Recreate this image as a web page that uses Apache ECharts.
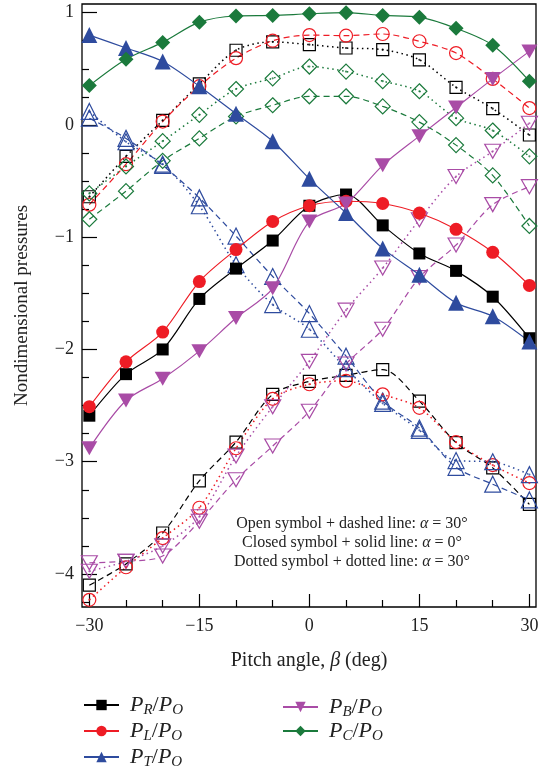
<!DOCTYPE html>
<html><head><meta charset="utf-8">
<script src="https://cdn.jsdelivr.net/npm/echarts@6/dist/echarts.min.js"></script>
<style>html,body{margin:0;padding:0;background:#fff}#c{width:546px;height:774px}</style>
</head><body><div id="c"></div>
<script>
const beta = [-30,-25,-20,-15,-10,-5,0,5,10,15,20,25,30];
const xMajor = [-30,-15,0,15,30];
const xMinor = [-25,-20,-10,-5,5,10,20,25];
const yMajor = [-4,-3,-2,-1,0,1];
const yMinor = [-4.25,-3.75,-3.5,-3.25,-2.75,-2.5,-2.25,-1.75,-1.5,-1.25,-0.75,-0.5,-0.25,0.25,0.5,0.75];

// Closed symbol + solid line (alpha = 0)
const R_solid = [-2.59,-2.22,-2.00,-1.55,-1.28,-1.03,-0.72,-0.62,-0.895,-1.145,-1.30,-1.53,-1.90];
const L_solid = [-2.51,-2.11,-1.845,-1.395,-1.11,-0.86,-0.72,-0.68,-0.70,-0.785,-0.93,-1.135,-1.43];
const T_solid = [0.80,0.685,0.565,0.345,0.10,-0.145,-0.48,-0.785,-1.10,-1.335,-1.585,-1.705,-1.93];
const B_solid = [-2.88,-2.455,-2.26,-2.015,-1.72,-1.455,-0.86,-0.70,-0.36,-0.10,0.155,0.41,0.655];
const C_solid = [0.35,0.585,0.735,0.915,0.97,0.975,0.99,1.0,0.975,0.96,0.86,0.71,0.39];

// Open symbol + dashed line
const R_dash = [-4.10,-3.91,-3.635,-3.17,-2.825,-2.40,-2.285,-2.23,-2.18,-2.46,-2.83,-3.055,-3.38];
const L_dash = [-0.71,-0.35,0.03,0.345,0.595,0.75,0.80,0.795,0.81,0.745,0.64,0.41,0.15];
const T_dash = [0.06,-0.12,-0.36,-0.65,-0.99,-1.35,-1.68,-2.06,-2.46,-2.70,-3.05,-3.20,-3.34];
const B_dash = [-3.90,-3.887,-3.84,-3.53,-3.16,-2.86,-2.55,-2.13,-1.82,-1.36,-1.07,-0.71,-0.55];
const C_dash = [-0.84,-0.59,-0.32,-0.12,0.075,0.175,0.255,0.255,0.165,0.025,-0.18,-0.45,-0.90];

// Dotted symbol + dotted line
const R_dot = [-0.64,-0.28,0.04,0.365,0.665,0.74,0.715,0.685,0.67,0.58,0.335,0.145,-0.09];
const L_dot = [-4.23,-3.94,-3.68,-3.41,-2.88,-2.44,-2.31,-2.28,-2.40,-2.52,-2.825,-3.03,-3.19];
const T_dot = [0.12,-0.15,-0.35,-0.72,-1.245,-1.60,-1.82,-2.17,-2.48,-2.72,-2.99,-3.00,-3.115];
const B_dot = [-3.976,-3.887,-3.75,-3.49,-2.95,-2.51,-2.106,-1.65,-1.275,-0.845,-0.46,-0.235,0.015];
const C_dot = [-0.61,-0.37,-0.145,0.09,0.32,0.415,0.52,0.475,0.39,0.30,0.06,-0.05,-0.28];

const COL = {R:'#000000', L:'#ee1c25', T:'#2e4b9e', B:'#a94ca6', C:'#1b7a3c'};
const SYM = {
  R:{s:'rect', size:12},
  L:{s:'circle', size:13},
  T:{s:'triangle', size:16},
  B:{s:'path://M0,0 L10,0 L5,9 Z', size:[16,14]},
  C:{s:'path://M5,0 L10,5 L5,10 L0,5 Z', size:15}
};
const names = {R:'P_R/P_O', L:'P_L/P_O', T:'P_T/P_O', B:'P_B/P_O', C:'P_C/P_O'};
const solid = {R:R_solid, L:L_solid, T:T_solid, B:B_solid, C:C_solid};
const dash = {R:R_dash, L:L_dash, T:T_dash, B:B_dash, C:C_dash};
const dot = {R:R_dot, L:L_dot, T:T_dot, B:B_dot, C:C_dot};
const pair = arr => beta.map((b,i)=>[b,arr[i]]);

const series = [];
const keys = ['R','L','T','B','C'];
keys.forEach(k=>{
  series.push({
    type:'line', name:k+'_dash', data:pair(dash[k]), smooth:0.3,
    symbol:SYM[k].s, symbolSize:SYM[k].size, showSymbol:true,
    itemStyle:{color:'rgba(255,255,255,0)', borderColor:COL[k], borderWidth:1.2},
    lineStyle:{color:COL[k], width:1.2, type:[6,4]},
    emphasis:{disabled:true}, z:2
  });
  series.push({
    type:'line', name:k+'_dot', data:pair(dot[k]), smooth:0.3,
    symbol:SYM[k].s, symbolSize:SYM[k].size, showSymbol:true,
    itemStyle:{color:'rgba(255,255,255,0)', borderColor:COL[k], borderWidth:1.2},
    lineStyle:{color:COL[k], width:1.5, type:[1.5,3.5]},
    emphasis:{disabled:true}, z:2
  });
  series.push({
    type:'scatter', name:k+'_dotc', data:pair(dot[k]),
    symbol:'circle', symbolSize:2.2, itemStyle:{color:COL[k]},
    emphasis:{disabled:true}, silent:true, z:3
  });
});
keys.forEach(k=>{
  series.push({
    type:'line', name:names[k], data:pair(solid[k]), smooth:0.3,
    symbol:SYM[k].s, symbolSize:SYM[k].size, showSymbol:true,
    itemStyle:{color:COL[k]},
    lineStyle:{color:COL[k], width:1.2},
    emphasis:{disabled:true}, z:4
  });
});

const serif = '"Liberation Serif","DejaVu Serif",serif';
const legRich = {
  p:{fontFamily:serif, fontStyle:'italic', fontSize:22, color:'#222', padding:[0,0,0,6]},
  i:{fontFamily:serif, fontStyle:'italic', fontSize:22, color:'#222'},
  s:{fontFamily:serif, fontStyle:'italic', fontSize:15, color:'#222', padding:[11,0,0,0]},
  n:{fontFamily:serif, fontSize:22, color:'#222'}
};
const legFmt = n => { const p = n.split('/'); const a=p[0].split('_'), b=p[1].split('_');
  return '{p|'+a[0]+'}{s|'+a[1]+'}{n|/}{i|'+b[0]+'}{s|'+b[1]+'}'; };
const legPos = {R:[83,707], L:[83,733], T:[83,759], B:[282,709], C:[282,733]};
const legends = keys.map(k=>({
  data:[names[k]], orient:'horizontal', left:legPos[k][0], top:legPos[k][1]-13,
  itemWidth:35, itemHeight:13, itemGap:0, formatter:legFmt, textStyle:{rich:legRich},
  selectedMode:false, padding:0
}));

const chart = echarts.init(document.getElementById('c'), null, {renderer:'canvas'});
const G = {left:82, right:10, top:4, bottom:167};
const minX=-31, maxX=30.9, minY=-4.294, maxY=1.077;
const fmtNum = v => (v<0?'\u2212'+Math.abs(v):String(v));
const txt = (t, y) => ({type:'text', x:352, y:y, style:{text:t, align:'center', verticalAlign:'middle',
  fontFamily:serif, fontSize:16, fill:'#222', rich:{a:{fontFamily:serif, fontStyle:'italic', fontSize:16, fill:'#222'}}}});
chart.setOption({
  animation:false,
  backgroundColor:'#fff',
  grid:{...G, show:true, borderColor:'#000', borderWidth:1.3, backgroundColor:'transparent'},
  xAxis:[
    {type:'value', min:minX, max:maxX, position:'bottom',
     axisLine:{show:false, onZero:false}, splitLine:{show:false},
     axisTick:{show:true, inside:true, length:13, customValues:xMajor, lineStyle:{color:'#000', width:1.2}},
     axisLabel:{customValues:xMajor, formatter:fmtNum, fontFamily:serif, fontSize:18, color:'#222', margin:10},
     name:'Pitch angle, {b|β} (deg)', nameLocation:'middle', nameGap:44,
     nameTextStyle:{fontFamily:serif, fontSize:20, color:'#222', rich:{b:{fontFamily:serif, fontStyle:'italic', fontSize:20, color:'#222'}}}},
    {type:'value', min:minX, max:maxX, position:'bottom', offset:0,
     axisLine:{show:false, onZero:false}, splitLine:{show:false},
     axisTick:{show:true, inside:true, length:7, customValues:xMinor, lineStyle:{color:'#000', width:1.2}},
     axisLabel:{show:false}}
  ],
  yAxis:[
    {type:'value', min:minY, max:maxY, position:'left',
     axisLine:{show:false, onZero:false}, splitLine:{show:false},
     axisTick:{show:true, inside:true, length:15, customValues:yMajor, lineStyle:{color:'#000', width:1.2}},
     axisLabel:{customValues:yMajor, formatter:fmtNum, fontFamily:serif, fontSize:18, color:'#222', margin:8},
     name:'Nondimensional pressures', nameLocation:'middle', nameGap:50,
     nameTextStyle:{fontFamily:serif, fontSize:19, color:'#222'}},
    {type:'value', min:minY, max:maxY, position:'left', offset:0,
     axisLine:{show:false, onZero:false}, splitLine:{show:false},
     axisTick:{show:true, inside:true, length:7, customValues:yMinor, lineStyle:{color:'#000', width:1.2}},
     axisLabel:{show:false}}
  ],
  legend: legends,
  graphic:[
    txt('Open symbol + dashed line: {a|α} = 30°', 524),
    txt('Closed symbol + solid line: {a|α} = 0°', 543),
    txt('Dotted symbol + dotted line: {a|α} = 30°', 562)
  ],
  series: series
});
</script></body></html>
